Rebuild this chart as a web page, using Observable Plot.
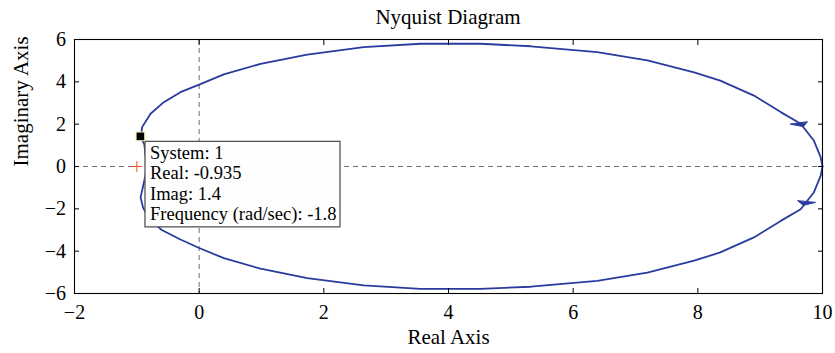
<!DOCTYPE html>
<html>
<head>
<meta charset="utf-8">
<script src="https://cdn.jsdelivr.net/npm/d3@7"></script>
<script src="https://cdn.jsdelivr.net/npm/@observablehq/plot@0.6"></script>
<style>
  body { margin: 0; background: white; }
  #title { width: 835px; box-sizing: border-box; padding: 0 13px 0 74px; height: 35px; line-height: 35px;
           text-align: center; font-family: "Liberation Serif", "Times New Roman", serif; font-size: 21px; color: black; }
  #chart svg text { font-family: "Liberation Serif", "Times New Roman", serif; }
</style>
</head>
<body>
<div id="title">Nyquist Diagram</div>
<div id="chart"></div>
<script>
// ---- data ----
const titleText = "Nyquist Diagram";
const xLabel = "Real Axis";
const yLabel = "Imaginary Axis";
const xTicks = [-2, 0, 2, 4, 6, 8, 10];
const yTicks = [-6, -4, -2, 0, 2, 4, 6];

// negative-frequency branch (upper half), from left end to (10, 0)
const upperRe = [-0.84, -0.86, -0.88, -0.935, -0.915, -0.78, -0.567, -0.30, 0.0, 0.395, 0.984, 1.733, 2.64, 3.55, 4.51, 5.32, 6.385, 7.19, 7.94, 8.36, 8.90, 9.33, 9.65, 9.86, 9.97, 10.0];
const upperIm = [0.0, 0.50, 1.05, 1.40, 1.86, 2.49, 3.04, 3.51, 3.87, 4.35, 4.85, 5.29, 5.64, 5.80, 5.80, 5.68, 5.40, 5.01, 4.45, 4.06, 3.35, 2.57, 2.02, 1.23, 0.44, 0.0];
// positive-frequency branch (lower half), from (10, 0) to left end
const lowerRe = [10.0, 9.97, 9.86, 9.65, 9.33, 8.90, 8.36, 7.94, 7.19, 6.385, 5.32, 4.51, 3.55, 2.64, 1.733, 0.984, 0.395, 0.0, -0.30, -0.60, -0.80, -0.90, -0.94, -0.89, -0.86, -0.84];
const lowerIm = [0.0, -0.44, -1.23, -2.02, -2.57, -3.35, -4.06, -4.45, -5.01, -5.40, -5.68, -5.78, -5.78, -5.62, -5.27, -4.83, -4.33, -3.85, -3.45, -3.0, -2.50, -1.94, -1.46, -0.80, -0.40, 0.0];

// direction arrows (tip point and travel direction)
const arrowRe = [9.70, 9.70];
const arrowIm = [1.86, -1.86];
const arrowDirRe = [0.18, -0.16];
const arrowDirIm = [-0.44, -0.56];

// critical point
const critRe = [-1];
const critIm = [0];

// data tip
const tipSystem = 1;
const tipReal = -0.935;
const tipImag = 1.4;
const tipFreq = -1.8;

// ---- build ----
const upper = upperRe.map((re, i) => ({re, im: upperIm[i]}));
const lower = lowerRe.map((re, i) => ({re, im: lowerIm[i]}));
const arrows = arrowRe.map((re, i) => ({re, im: arrowIm[i], dre: arrowDirRe[i], dim: arrowDirIm[i]}));
const crit = critRe.map((re, i) => ({re, im: critIm[i]}));

const serif = "'Liberation Serif', 'Times New Roman', serif";
const curveColor = "#2a3b9f";
const fmt = d => (d < 0 ? "\u2212" + Math.abs(d) : String(d));
const noText = () => "";

function arrowMark(index, scales) {
  const g = d3.create("svg:g");
  const L = 0.19, W = 0.15;
  for (const a of arrows) {
    const n = Math.hypot(a.dre, a.dim);
    const ux = a.dre / n, uy = a.dim / n;
    const cx = a.re - L * ux, cy = a.im - L * uy;
    const pts = [
      [a.re, a.im],
      [cx + W * uy, cy - W * ux],
      [cx - W * uy, cy + W * ux]
    ].map(([x, y]) => [scales.x(x), scales.y(y)]);
    g.append("path")
      .attr("d", "M" + pts.map(p => p.join(",")).join("L") + "Z")
      .attr("fill", curveColor)
      .attr("stroke", curveColor)
      .attr("stroke-width", 1);
  }
  return g.node();
}

function datatipMark(index, scales) {
  const px = scales.x(tipReal), py = scales.y(tipImag);
  const g = d3.create("svg:g");
  const bx = px + 4.6, by = py + 5;
  const lines = [
    `System: ${tipSystem}`,
    `Real: ${tipReal}`,
    `Imag: ${tipImag}`,
    `Frequency (rad/sec): ${tipFreq}`
  ];
  g.append("rect")
    .attr("x", bx).attr("y", by).attr("width", 195).attr("height", 85.5)
    .attr("fill", "#fefefe").attr("stroke", "#555").attr("stroke-width", 1.3);
  const t = g.append("text")
    .attr("font-family", serif).attr("font-size", 18.5).attr("fill", "black")
    .attr("text-anchor", "start");
  lines.forEach((s, i) =>
    t.append("tspan").attr("x", bx + 5).attr("y", by + 17.3 + i * 20.5).text(s));
  g.append("rect")
    .attr("x", px - 4.3).attr("y", py - 4.3).attr("width", 8.6).attr("height", 8.6)
    .attr("fill", "black").attr("stroke", "#efe6a8").attr("stroke-width", 1);
  return g.node();
}

const plot = Plot.plot({
  width: 835,
  height: 318,
  marginTop: 4,
  marginRight: 13,
  marginBottom: 60,
  marginLeft: 74,
  x: {domain: [-2, 10], axis: null},
  y: {domain: [-6, 6], axis: null},
  style: {fontFamily: serif, fontSize: "20px", color: "black", background: "white", overflow: "visible"},
  marks: [
    Plot.ruleX([0], {stroke: "#707070", strokeDasharray: "5,4", strokeWidth: 1}),
    Plot.ruleY([0], {stroke: "#707070", strokeDasharray: "5,4", strokeWidth: 1}),
    Plot.line(upper, {x: "re", y: "im", stroke: curveColor, strokeWidth: 1.8, curve: "linear"}),
    Plot.line(lower, {x: "re", y: "im", stroke: curveColor, strokeWidth: 1.8, curve: "linear"}),
    arrowMark,
    Plot.dot(crit, {x: "re", y: "im", symbol: "plus", r: 3.6, stroke: "#f0522e", strokeWidth: 1}),
    Plot.frame({stroke: "black", strokeWidth: 1.1}),
    Plot.axisX(xTicks, {anchor: "bottom", tickSize: 0, tickPadding: 11, tickFormat: fmt, label: null, fontSize: 20, fontFamily: serif}),
    Plot.axisX(xTicks, {anchor: "bottom", tickSize: -5, tickFormat: noText, label: null}),
    Plot.axisX(xTicks, {anchor: "top", tickSize: -5, tickFormat: noText, label: null}),
    Plot.axisY(yTicks, {anchor: "left", tickSize: 0, tickPadding: 8.5, tickFormat: fmt, label: null, fontSize: 20, fontFamily: serif}),
    Plot.axisY(yTicks, {anchor: "left", tickSize: -5, tickFormat: noText, label: null}),
    Plot.axisY(yTicks, {anchor: "right", tickSize: -5, tickFormat: noText, label: null}),
    Plot.text([xLabel], {text: d => d, frameAnchor: "bottom", dy: 50, fontSize: 21, fontFamily: serif}),
    Plot.text([yLabel], {text: d => d, frameAnchor: "left", dx: -53, rotate: -90, fontSize: 21, fontFamily: serif}),
    datatipMark
  ]
});
document.getElementById("title").textContent = titleText;
document.getElementById("chart").append(plot);
</script>
</body>
</html>
